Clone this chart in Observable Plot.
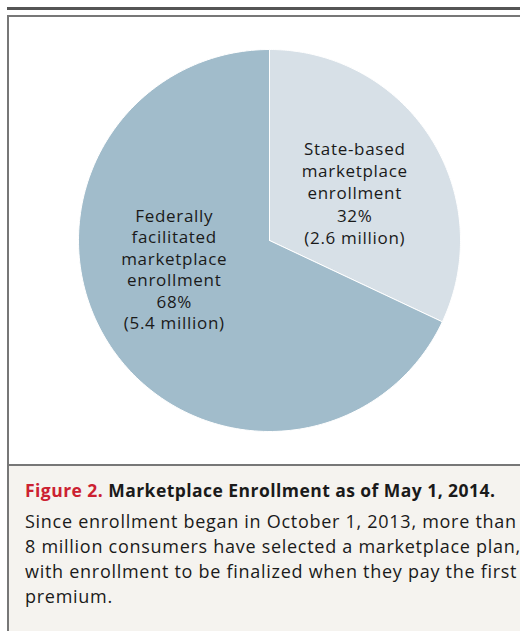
<!DOCTYPE html>
<html>
<head>
<meta charset="utf-8">
<script src="https://cdn.jsdelivr.net/npm/d3@7"></script>
<script src="https://cdn.jsdelivr.net/npm/@observablehq/plot@0.6"></script>
<style>
  html, body { margin: 0; padding: 0; background: #ffffff; }
  body { width: 520px; height: 633px; position: relative; overflow: hidden; font-family: "Open Sans", sans-serif; }
  #rule { position: absolute; left: 7px; top: 7px; width: 513px; height: 3px; background: #555555; }
  #box { position: absolute; left: 7px; top: 15px; width: 530px; height: 616px; border: 2px solid #777777; box-sizing: border-box; background: #ffffff; }
  #chart { position: absolute; left: 0; top: 17px; width: 520px; height: 447px; }
  #sep { position: absolute; left: 7px; top: 464px; width: 513px; height: 2px; background: #777777; }
  #caption { position: absolute; left: 9px; top: 466px; width: 520px; height: 165px; background: #f5f3ef; }
  #title { position: absolute; left: 16px; top: 12px; font-size: 17.5px; letter-spacing: 0.45px; font-weight: 700; color: #1a1a1a; white-space: nowrap; }
  #title .fig { color: #cc2131; }
  #body { position: absolute; left: 16px; top: 43px; font-size: 18px; letter-spacing: 0.72px; line-height: 25px; color: #1a1a1a; white-space: nowrap; }
</style>
</head>
<body>
<div id="rule"></div>
<div id="box"></div>
<div id="chart"></div>
<div id="sep"></div>
<div id="caption">
  <div id="title"><span class="fig">Figure 2.</span> Marketplace Enrollment as of May 1, 2014.</div>
  <div id="body">Since enrollment began in October 1, 2013, more than<br>8 million consumers have selected a marketplace plan,<br>with enrollment to be finalized when they pay the first<br>premium.</div>
</div>
<script>
// Data
const categories = ["State-based", "Federally facilitated"];
const shares = [32, 68];           // percent
const enrollMillions = [2.6, 5.4]; // millions
const labels = [
  "State-based\nmarketplace\nenrollment\n32%\n(2.6 million)",
  "Federally\nfacilitated\nmarketplace\nenrollment\n68%\n(5.4 million)"
];
const colors = ["#d7e0e7", "#a1bccb"];

const table = categories.map((c, i) => ({category: c, share: shares[i], label: labels[i], color: colors[i]}));

// pie layout: clockwise from 12 o'clock
const arcs = d3.pie().sort(null).value(d => d.share)(table);

// polygon outline for each slice (sampled arc geometry)
const outline = [];
arcs.forEach(a => {
  const n = 180;
  outline.push({category: a.data.category, color: a.data.color, x: 0, y: 0});
  for (let k = 0; k <= n; k++) {
    const t = a.startAngle + (a.endAngle - a.startAngle) * k / n;
    outline.push({category: a.data.category, color: a.data.color, x: Math.sin(t), y: Math.cos(t)});
  }
  outline.push({category: a.data.category, color: a.data.color, x: 0, y: 0});
});

const lab = arcs.map(a => {
  const m = (a.startAngle + a.endAngle) / 2;
  const r = 0.51;
  return {category: a.data.category, label: a.data.label, x: r * Math.sin(m), y: r * Math.cos(m)};
});

const textOpts = {
  x: "x", y: "y", text: "label", fill: "#1a1a1a",
  fontSize: 17, textAnchor: "middle",
  fontFamily: "Open Sans, sans-serif"
};

const plot = Plot.plot({
  width: 520,
  height: 447,
  marginLeft: 78,
  marginRight: 60,
  marginTop: 32,
  marginBottom: 33,
  x: {domain: [-1, 1], axis: null},
  y: {domain: [-1, 1], axis: null},
  style: {background: "transparent", letterSpacing: "0.7px"},
  marks: [
    Plot.line(outline, {x: "x", y: "y", z: "category", fill: "color", stroke: "#ffffff", strokeWidth: 1, strokeLinejoin: "round", curve: "linear"}),
    Plot.text(lab.filter(d => d.category === "State-based"), {...textOpts, lineHeight: 1.32, dx: 3, dy: 4}),
    Plot.text(lab.filter(d => d.category === "Federally facilitated"), {...textOpts, lineHeight: 1.26, dx: -13, dy: -24})
  ]
});
document.getElementById("chart").appendChild(plot);
</script>
</body>
</html>
